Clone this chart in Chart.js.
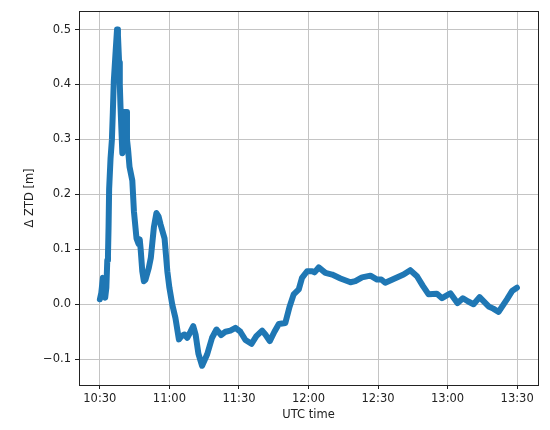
<!DOCTYPE html>
<html>
<head>
<meta charset="utf-8">
<script src="https://cdn.jsdelivr.net/npm/chart.js@4.4.1/dist/chart.umd.min.js"></script>
<style>
  body { margin: 0; background: #fff; }
  canvas { display: block; }
</style>
</head>
<body>
<canvas id="ztdChart" width="550" height="430"></canvas>
<script>
'use strict';

// time in minutes of the day (UTC)
let timeMin = [
  630.0, 630.6, 631.3, 631.8, 632.3, 632.8, 633.2, 633.5, 633.75, 634.0,
  634.6, 635.2, 635.6, 636.0, 636.8, 637.4, 637.8, 638.3, 638.6, 638.9,
  639.7, 640.0, 640.4, 641.3, 641.7, 642.2, 642.8, 644.0, 644.7, 645.8,
  646.7, 647.2, 647.6, 648.3, 649.0, 649.7, 651.1, 652.0, 653.3, 654.4,
  655.3, 656.2, 657.9, 659.1, 660.0, 661.2, 662.6, 664.1, 665.2, 666.5,
  667.7, 669.1, 670.3, 671.3, 672.5, 674.1, 676.3, 678.4, 680.3, 682.3,
  684.2, 686.3, 688.5, 690.6, 692.8, 695.4, 697.5, 700.0, 701.4, 703.3,
  705.3, 707.2, 710.0, 711.8, 713.6, 715.8, 717.2, 719.4, 721.6, 722.6,
  724.4, 727.3, 730.2, 733.8, 738.1, 740.2, 743.1, 746.7, 749.6, 751.4,
  753.1, 756.7, 761.0, 763.9, 766.8, 769.4, 771.8, 775.4, 777.6, 781.2,
  784.3, 786.6, 788.9, 791.2, 793.8, 797.7, 799.7, 802.0, 805.6, 807.8,
  809.9
];

// Delta ZTD in metres
let deltaZtd = [
  0.009, 0.02, 0.048, 0.015, 0.012, 0.03, 0.08, 0.09, 0.14, 0.21,
  0.265, 0.30, 0.35, 0.405, 0.46, 0.50, 0.49, 0.44, 0.40, 0.36,
  0.275, 0.30, 0.35, 0.35, 0.30, 0.28, 0.25, 0.225, 0.169, 0.12,
  0.11, 0.118, 0.10, 0.06, 0.042, 0.045, 0.066, 0.085, 0.14, 0.166,
  0.16, 0.145, 0.12, 0.06, 0.03, 0.0, -0.025, -0.064, -0.058, -0.055,
  -0.061, -0.05, -0.04, -0.055, -0.09, -0.112, -0.091, -0.061, -0.046, -0.056,
  -0.05, -0.048, -0.043, -0.05, -0.065, -0.072, -0.058, -0.048, -0.055, -0.067,
  -0.05, -0.036, -0.034, -0.005, 0.018, 0.027, 0.048, 0.06, 0.06, 0.058,
  0.067, 0.057, 0.054, 0.047, 0.04, 0.042, 0.049, 0.052, 0.045, 0.045,
  0.039, 0.046, 0.054, 0.062, 0.051, 0.033, 0.018, 0.019, 0.011, 0.02,
  0.002, 0.011, 0.005, 0.0, 0.013, -0.004, -0.008, -0.014, 0.009, 0.024,
  0.03
];

let xTickValues = [630, 660, 690, 720, 750, 780, 810];
let xTickLabels = ['10:30', '11:00', '11:30', '12:00', '12:30', '13:00', '13:30'];
let yTickValues = [-0.1, 0, 0.1, 0.2, 0.3, 0.4, 0.5];
let yTickLabels = ['\u22120.1', '0.0', '0.1', '0.2', '0.3', '0.4', '0.5'];

const tickFont = { family: 'DejaVu Sans', size: 11.5 };

// matplotlib-like box around the plot area
const frame = {
  id: 'frame',
  afterDatasetsDraw(chart) {
    const a = chart.chartArea;
    const ctx = chart.ctx;
    ctx.save();
    ctx.strokeStyle = '#222';
    ctx.lineWidth = 1;
    ctx.strokeRect(Math.round(a.left) + 0.5, Math.round(a.top) + 0.5,
      Math.round(a.right - a.left), Math.round(a.bottom - a.top));
    ctx.restore();
  }
};

let points = timeMin.map((t, i) => ({ x: t, y: deltaZtd[i] }));

new Chart(document.getElementById('ztdChart'), {
  type: 'line',
  data: {
    datasets: [{
      data: points,
      borderColor: '#1f77b4',
      borderWidth: 6,
      borderCapStyle: 'round',
      borderJoinStyle: 'round',
      pointRadius: 0,
      tension: 0,
      fill: false
    }]
  },
  options: {
    responsive: false,
    animation: false,
    devicePixelRatio: 1,
    layout: { padding: { left: 0, top: 9, right: 12, bottom: 0 } },
    plugins: {
      legend: { display: false },
      tooltip: { enabled: false }
    },
    scales: {
      x: {
        type: 'linear',
        min: 621,
        max: 819,
        afterBuildTicks: (scale) => { scale.ticks = xTickValues.map(v => ({ value: v })); },
        afterFit: (scale) => { scale.height = 45; },
        ticks: {
          autoSkip: false,
          maxRotation: 0,
          padding: 3,
          color: '#222',
          font: tickFont,
          callback: (value) => xTickLabels[xTickValues.indexOf(value)]
        },
        grid: { color: '#c4c4c4', lineWidth: 1, tickLength: 4, tickColor: '#222' },
        border: { display: false },
        title: {
          display: true,
          text: 'UTC time',
          color: '#222',
          font: tickFont,
          padding: { top: 0, bottom: 8 }
        }
      },
      y: {
        type: 'linear',
        min: -0.147,
        max: 0.534,
        afterBuildTicks: (scale) => { scale.ticks = yTickValues.map(v => ({ value: v })); },
        afterFit: (scale) => { scale.width = 79; },
        ticks: {
          padding: 4,
          color: '#222',
          font: tickFont,
          callback: (value) => {
            let i = yTickValues.findIndex(v => Math.abs(v - value) < 1e-9);
            return i >= 0 ? yTickLabels[i] : '';
          }
        },
        grid: { color: '#c4c4c4', lineWidth: 1, tickLength: 4, tickColor: '#222' },
        border: { display: false },
        title: {
          display: true,
          text: '\u0394 ZTD [m]',
          color: '#222',
          font: tickFont,
          padding: { top: 23, bottom: 0 }
        }
      }
    }
  },
  plugins: [frame]
});
</script>
</body>
</html>
